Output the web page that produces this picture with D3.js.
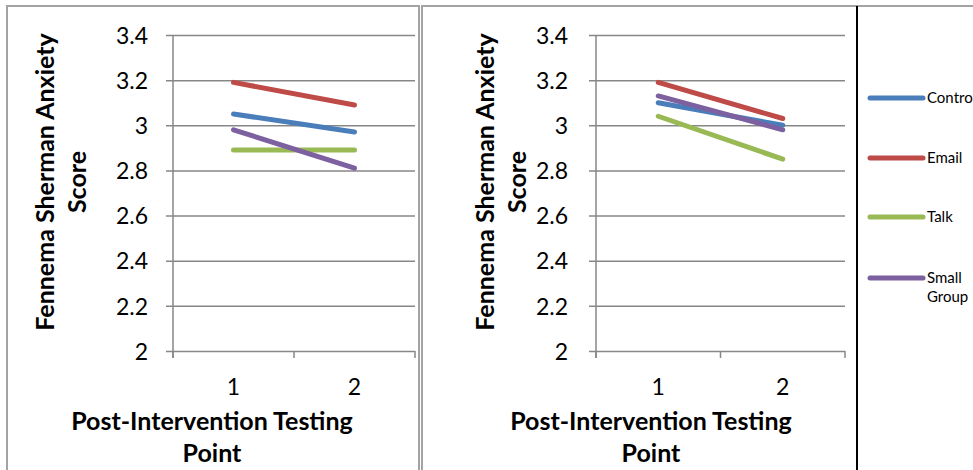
<!DOCTYPE html>
<html>
<head>
<meta charset="utf-8">
<script src="https://cdn.jsdelivr.net/npm/d3@7"></script>
<style>
  html, body { margin: 0; padding: 0; background: #fff; overflow: hidden; }
  svg { display: block; }
  text { font-family: Lato, "Open Sans", sans-serif; fill: #000; }
</style>
</head>
<body>
<svg id="chart" width="973" height="470"></svg>
<script>
// ---- data ----
const categories = ["1", "2"];
const seriesNames = ["Control", "Email", "Talk", "Small Group"];
const seriesColors = ["#4a7ebb", "#be4b48", "#98b954", "#7d60a0"];
const leftControl = [3.05, 2.97];
const leftEmail = [3.19, 3.09];
const leftTalk = [2.89, 2.89];
const leftSmallGroup = [2.98, 2.81];
const rightControl = [3.10, 3.00];
const rightEmail = [3.19, 3.03];
const rightTalk = [3.04, 2.85];
const rightSmallGroup = [3.13, 2.98];
const yTicks = [2, 2.2, 2.4, 2.6, 2.8, 3, 3.2, 3.4];
const yTitleLines = ["Fennema Sherman Anxiety", "Score"];
const xTitleLines = ["Post-Intervention Testing", "Point"];

const svg = d3.select("#chart");
const gridColor = "#878787";
const frameColor = "#a3a3a3";

// frames
svg.append("rect").attr("x", 7).attr("y", 6).attr("width", 419 - 7).attr("height", 480)
  .attr("fill", "none").attr("stroke", frameColor).attr("stroke-width", 2);
svg.append("rect").attr("x", 422).attr("y", 6).attr("width", 600).attr("height", 480)
  .attr("fill", "none").attr("stroke", frameColor).attr("stroke-width", 2);

function drawPanel(cfg) {
  const y = d3.scaleLinear().domain([2, 3.4]).range([351, 35]);
  const x = d3.scaleBand().domain(categories).range([cfg.x0, cfg.x1]);
  const g = svg.append("g");

  // y axis with gridlines
  const yAxis = d3.axisLeft(y).tickValues(yTicks).tickSize(-(cfg.x1 - cfg.x0)).tickSizeOuter(0)
    .tickFormat(d3.format("~g")).tickPadding(0);
  const ya = g.append("g").attr("transform", `translate(${cfg.x0},0)`).call(yAxis);
  ya.select(".domain").remove();
  ya.selectAll(".tick line").attr("stroke", gridColor).attr("stroke-width", 1.5)
    .attr("x1", -7);
  ya.selectAll(".tick text").attr("x", cfg.labelX - cfg.x0).attr("dy", "0.36em")
    .style("font-size", "23px").style("font-family", "Lato, sans-serif").attr("fill", "#000");
  g.append("line").attr("x1", cfg.x0).attr("x2", cfg.x0).attr("y1", 35).attr("y2", 358)
    .attr("stroke", gridColor).attr("stroke-width", 1.5);

  // x axis
  const xa = g.append("g").attr("transform", "translate(0,351)")
    .call(d3.axisBottom(x).tickSize(0).tickPadding(0));
  xa.select(".domain").remove();
  xa.selectAll(".tick text").attr("y", 36).attr("dy", "0.36em")
    .style("font-size", "23px").style("font-family", "Lato, sans-serif").attr("fill", "#000");
  const edges = [cfg.x0, cfg.x0 + x.step(), cfg.x1];
  g.selectAll(".xtick").data(edges).join("line")
    .attr("x1", d => d).attr("x2", d => d).attr("y1", 351).attr("y2", 358)
    .attr("stroke", gridColor).attr("stroke-width", 1.5);

  // lines
  const line = d3.line().x((d, i) => x(categories[i]) + x.bandwidth() / 2).y(d => y(d));
  cfg.series.forEach((vals, i) => {
    g.append("path").datum(vals).attr("d", line)
      .attr("fill", "none").attr("stroke", seriesColors[i]).attr("stroke-width", 5)
      .attr("stroke-linecap", "round");
  });

  // titles
  const yt = g.append("text").attr("transform", `translate(${cfg.yTitleX},${182}) rotate(-90)`)
    .attr("text-anchor", "middle").style("font-size", "25px").style("font-weight", "bold");
  yTitleLines.forEach((t, i) => yt.append("tspan").attr("x", 0).attr("y", i * 32).attr("dy", "0.35em").text(t));
  const xt = g.append("text").attr("text-anchor", "middle")
    .style("font-size", "25px").style("font-weight", "bold");
  xTitleLines.forEach((t, i) => xt.append("tspan").attr("x", cfg.xTitleX).attr("y", 421 + i * 32).attr("dy", "0.35em").text(t));
}

drawPanel({ x0: 173, x1: 415, labelX: 148, yTitleX: 45, xTitleX: 212,
  series: [leftControl, leftEmail, leftTalk, leftSmallGroup] });
drawPanel({ x0: 596, x1: 845, labelX: 568, yTitleX: 485, xTitleX: 651,
  series: [rightControl, rightEmail, rightTalk, rightSmallGroup] });

// legend separator
svg.append("line").attr("x1", 857).attr("x2", 857).attr("y1", 6).attr("y2", 470)
  .attr("stroke", "#000").attr("stroke-width", 2);

// legend
const legendY = [98, 158, 217, 278];
const lg = svg.append("g");
seriesNames.forEach((name, i) => {
  lg.append("line").attr("x1", 870).attr("x2", 923).attr("y1", legendY[i]).attr("y2", legendY[i])
    .attr("stroke", seriesColors[i]).attr("stroke-width", 5).attr("stroke-linecap", "round");
  const words = name === "Small Group" ? ["Small", "Group"] : [name];
  const t = lg.append("text").style("font-size", "15px");
  words.forEach((w, j) => t.append("tspan").attr("x", 927).attr("y", legendY[i] + j * 19).attr("dy", "0.35em").text(w));
});
</script>
</body>
</html>
